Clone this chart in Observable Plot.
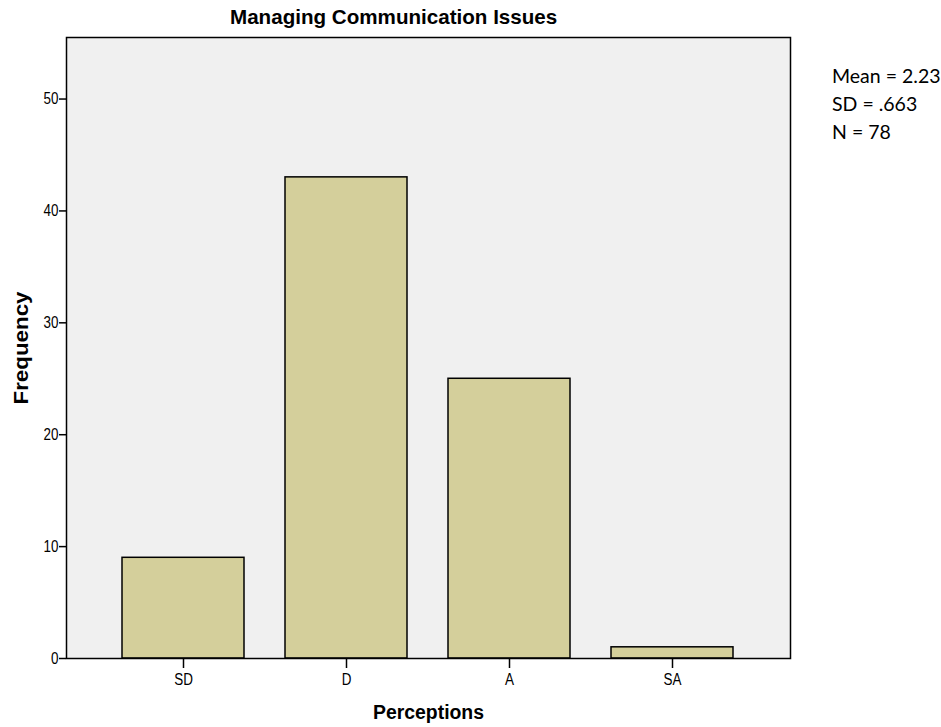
<!DOCTYPE html>
<html>
<head>
<meta charset="utf-8">
<script src="https://cdn.jsdelivr.net/npm/d3@7"></script>
<script src="https://cdn.jsdelivr.net/npm/@observablehq/plot@0.6"></script>
<style>
  html, body { margin: 0; padding: 0; background: #fff; }
  #wrap { position: relative; width: 941px; height: 727px; }
  #title { position: absolute; left: 230px; top: 5px; white-space: nowrap;
           font: bold 20.6px "Liberation Sans", Arial, sans-serif; color: #000; }
  #stats { position: absolute; left: 832px; top: 62px;
           font: 19.5px Lato, "Open Sans", sans-serif; line-height: 28px; color: #000; }
  #chart { position: absolute; left: 0; top: 0; }
</style>
</head>
<body>
<div id="wrap">
  <div id="chart"></div>
  <div id="title"></div>
  <div id="stats"></div>
</div>
<script>
const title = "Managing Communication Issues";
const categories = ["SD", "D", "A", "SA"];
const frequencies = [9, 43, 25, 1];
const yTicks = [0, 10, 20, 30, 40, 50];
const statsLines = ["Mean = 2.23", "SD = .663", "N = 78"];
const xLabel = "Perceptions";
const yLabel = "Frequency";

const data = categories.map((c, i) => ({category: c, count: frequencies[i]}));

document.getElementById("title").textContent = title;
document.getElementById("stats").innerHTML = statsLines.map(s => `<div>${s}</div>`).join("");

const chart = Plot.plot({
  width: 941,
  height: 727,
  marginLeft: 66,
  marginRight: 151,
  marginTop: 37,
  marginBottom: 69,
  style: {fontFamily: "'Liberation Sans', Arial, sans-serif", fontSize: "16px", color: "#000", background: "transparent"},
  x: {domain: categories, paddingInner: 0.25, paddingOuter: 0.344},
  y: {domain: [0, 55.5]},
  marks: [
    Plot.frame({fill: "#f0f0f0"}),
    Plot.barY(data, {x: "category", y: "count", fill: "#d4cf9b", stroke: "#000", strokeWidth: 1.5}),
    Plot.frame({stroke: "#000", strokeWidth: 1.5}),
    Plot.axisY({ticks: yTicks, tickSize: 7, tickPadding: 1, strokeWidth: 1.5, label: null, className: "ytick"}),
    Plot.axisX({tickSize: 10, tickPadding: 5, strokeWidth: 1.5, label: null, className: "xtick"}),
    Plot.text([xLabel], {frameAnchor: "bottom", dy: 60, text: d => d, fontWeight: "bold", fontSize: 20, fontFamily: "'Liberation Sans', Arial, sans-serif", className: "xlab"}),
    Plot.text([yLabel], {frameAnchor: "left", textAnchor: "middle", dx: -45, rotate: -90, text: d => d, fontWeight: "bold", fontSize: 19.5, fontFamily: "'Liberation Sans', Arial, sans-serif", className: "ylab"})
  ]
});
document.getElementById("chart").appendChild(chart);

// Squeeze glyphs to mimic the reference's narrow rendering
chart.querySelectorAll("g[aria-label='y-axis tick label'] text, g[aria-label='x-axis tick label'] text").forEach(t => {
  const w = t.getComputedTextLength();
  t.setAttribute("textLength", (w * 0.84).toFixed(1));
  t.setAttribute("lengthAdjust", "spacingAndGlyphs");
});
chart.querySelectorAll("g[aria-label='text'] text").forEach(t => {
  if (t.textContent === yLabel) {
    t.setAttribute("textLength", "113");
    t.setAttribute("lengthAdjust", "spacingAndGlyphs");
  } else if (t.textContent === xLabel) {
    t.setAttribute("textLength", "111");
    t.setAttribute("lengthAdjust", "spacingAndGlyphs");
  }
});
</script>
</body>
</html>
